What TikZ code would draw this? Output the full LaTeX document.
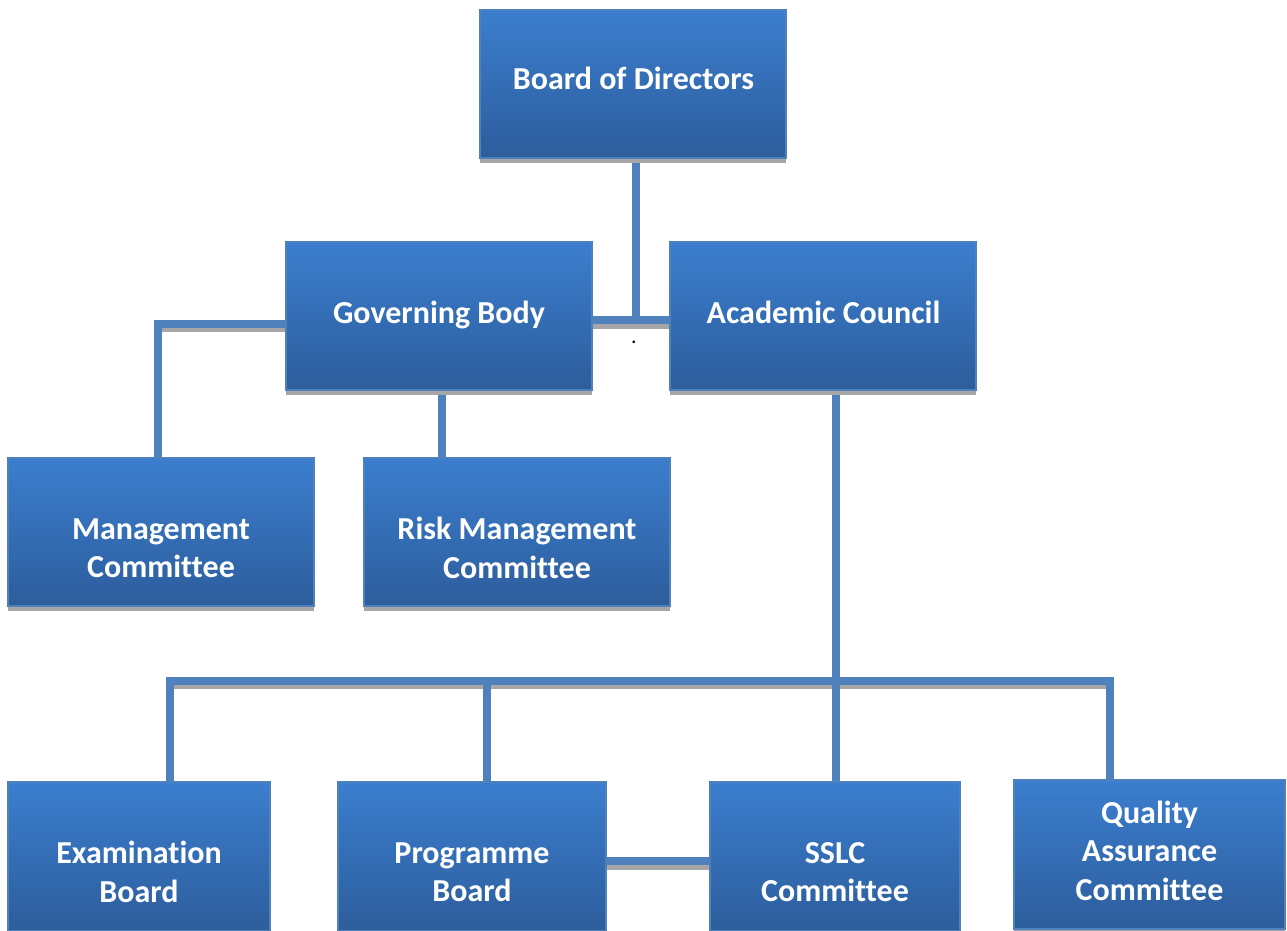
\documentclass[tikz,border=0pt]{standalone}
\usepackage{fontspec}
\setmainfont{Carlito}[Ligatures=NoCommon]
\usetikzlibrary{backgrounds}
\definecolor{boxtop}{RGB}{59,126,206}
\definecolor{boxbot}{RGB}{45,93,156}
\definecolor{boxedge}{RGB}{79,129,189}
\definecolor{conn}{RGB}{79,129,189}
\definecolor{shadowgray}{RGB}{166,166,166}
\newcommand{\mkbox}[5]{%
  \fill[shadowgray] (#2,#3+4.5) rectangle (#4,#5+4.5);
  \node[orgbox, minimum width={(#4-#2)*1pt}, minimum height={(#5-#3)*1pt}] (#1) at ({(#2+#4)/2},{(#3+#5)/2}) {};}
\newcommand{\allconns}[1]{%
  \draw[#1] (bod.south -| jt) -- (jt);
  \draw[#1] (gb.east |- jt) -- (ac.west |- jt);
  \draw[#1] (gb.west |- jm) -- (jm) -- (mc.north -| jm);
  \draw[#1] (gb.south -| jr) -- (rmc.north -| jr);
  \draw[#1] (ac.south -| ja) -- (sslc.north -| ja);
  \draw[#1] (eb.north -| bl) -- (bl) -- (br) -- (qa.north -| br);
  \draw[#1] (jp) -- (pb.north -| jp);
  \draw[#1] (pb.east |- jb) -- (sslc.west |- jb);}
\begin{document}
\begin{tikzpicture}[x=1pt,y=-1pt,
  orgbox/.style={rectangle, draw=boxedge, line width=1.2pt, top color=boxtop, bottom color=boxbot, inner sep=0pt},
  lbl/.style={text=white, font=\fontsize{32}{38.5}\selectfont\bfseries, align=center, inner sep=0pt},
  link/.style={draw=conn, line width=8pt},
  linkshadow/.style={draw=shadowgray, line width=8pt}]
\useasboundingbox (0,0) rectangle (1287,931);

% junction coordinates
\coordinate (jt) at (636,320);
\coordinate (jm) at (158,323.5);
\coordinate (jr) at (442,400);
\coordinate (ja) at (836,680.5);
\coordinate (bl) at (170,680.5);
\coordinate (br) at (1110,680.5);
\coordinate (jp) at (487,680.5);
\coordinate (jb) at (650,861);

% boxes with their shadows
\mkbox{bod}{480}{10}{786}{158}
\mkbox{gb}{286}{242}{592}{390}
\mkbox{ac}{670}{242}{976}{390}
\mkbox{mc}{8}{458}{314}{606}
\mkbox{rmc}{364}{458}{670}{606}
\mkbox{eb}{8}{782}{270}{931}
\mkbox{pb}{338}{782}{606}{931}
\mkbox{sslc}{710}{782}{960}{931}
\mkbox{qa}{1014}{780}{1285}{929}

% connectors behind the boxes
\begin{pgfonlayer}{background}
\fill[white] (0,0) rectangle (1287,931);
\begin{scope}[transform canvas={yshift=-4.5pt}]
\allconns{linkshadow}
\end{scope}
\allconns{link}
\end{pgfonlayer}

\node[lbl, anchor=base] (bod-t) at (633.5,90) {Board of Directors};
\node[lbl, anchor=base] (gb-t) at (439,323) {Governing Body};
\node[lbl, anchor=base] (ac-t) at (823.5,323) {Academic Council};
\node[lbl] (mc-t) at (161,548) {Management\\Committee};
\node[lbl] (rmc-t) at (517,548) {Risk Management\\Committee};
\node[lbl] (eb-t) at (139,872) {Examination\\Board};
\node[lbl] (pb-t) at (472,872) {Programme\\Board};
\node[lbl] (sslc-t) at (835,872) {SSLC\\Committee};
\node[lbl] (qa-t) at (1149.5,850.5) {Quality\\Assurance\\Committee};
\node[anchor=base, inner sep=0pt, font=\fontsize{22}{24}\selectfont] (dot) at (634,343) {.};
\end{tikzpicture}
\end{document}
